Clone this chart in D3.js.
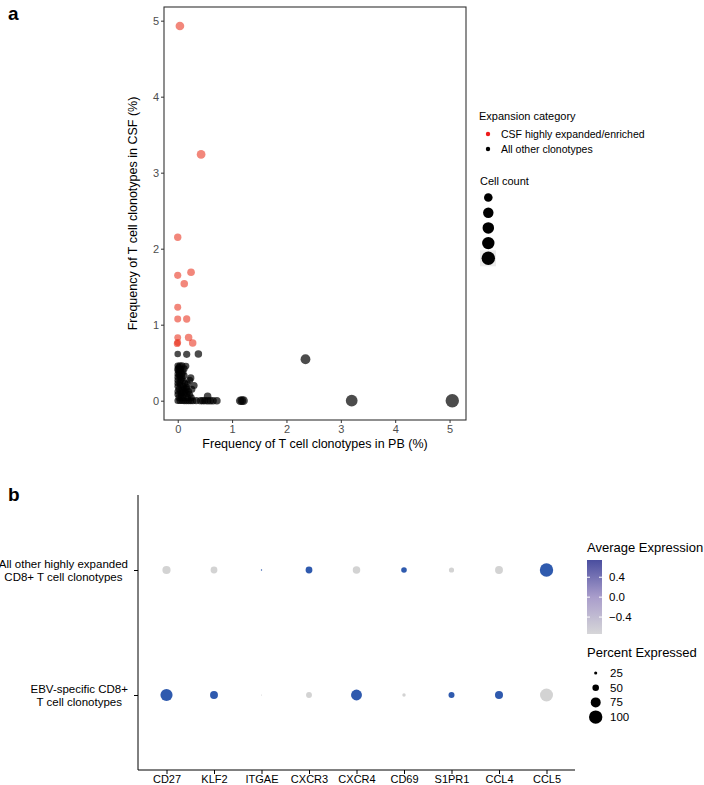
<!DOCTYPE html>
<html>
<head>
<meta charset="utf-8">
<title>Clonotype frequency and dot plot</title>
<script src="https://d3js.org/d3.v7.min.js"></script>
<style>
  body { margin: 0; background: #fff; }
  svg text { font-family: "Liberation Sans", Arial, Helvetica, sans-serif; }
</style>
</head>
<body>
<svg id="fig" width="704" height="785"></svg>
<script>
// ---- panel a data: frequency in PB (x), frequency in CSF (y), cell count ----
var csfExpanded = [
  [0.04, 4.93, 32], [0.43, 3.24, 34], [0.00, 2.15, 10], [0.00, 1.65, 8],
  [0.245, 1.69, 14], [0.12, 1.54, 12], [0.00, 1.23, 6], [0.00, 1.075, 6],
  [0.165, 1.075, 9], [0.00, 0.83, 5], [0.00, 0.765, 5], [-0.01, 0.75, 5],
  [0.20, 0.83, 12], [0.275, 0.76, 12]
];
var otherClonotypes = [
  [0.00, 0.615, 3], [0.165, 0.61, 8], [0.38, 0.615, 12], [2.35, 0.545, 60],
  [0.00, 0.46, 3], [0.04, 0.46, 4], [0.08, 0.46, 5], [0.15, 0.455, 6],
  [0.00, 0.42, 3], [0.05, 0.42, 4], [0.12, 0.42, 5], [0.02, 0.44, 3],
  [0.02, 0.38, 3], [0.10, 0.38, 4], [0.00, 0.40, 3], [0.06, 0.39, 4],
  [0.00, 0.35, 3], [0.08, 0.35, 4], [0.03, 0.34, 3], [0.12, 0.33, 5],
  [0.00, 0.31, 3], [0.04, 0.31, 4], [0.24, 0.30, 9], [0.08, 0.30, 4],
  [0.00, 0.27, 3], [0.06, 0.27, 4], [0.22, 0.27, 7], [0.10, 0.26, 4],
  [0.00, 0.23, 3], [0.04, 0.23, 4], [0.13, 0.23, 5], [0.18, 0.22, 5],
  [0.00, 0.19, 3], [0.10, 0.19, 4], [0.30, 0.20, 8], [0.05, 0.20, 4], [0.16, 0.18, 5],
  [0.02, 0.15, 3], [0.08, 0.15, 4], [0.16, 0.15, 5], [0.26, 0.15, 7], [0.12, 0.16, 4],
  [0.00, 0.12, 3], [0.05, 0.12, 4], [0.14, 0.12, 5], [0.20, 0.12, 6], [0.09, 0.11, 4],
  [0.00, 0.08, 3], [0.06, 0.08, 4], [0.12, 0.08, 5], [0.22, 0.08, 6], [0.17, 0.09, 5],
  [0.02, 0.04, 3], [0.10, 0.04, 4], [0.18, 0.04, 5], [0.25, 0.04, 6], [0.06, 0.05, 4],
  [0.55, 0.06, 12],
  [0.00, 0.00, 3], [0.04, 0.00, 4], [0.08, 0.00, 4], [0.12, 0.00, 5],
  [0.16, 0.00, 5], [0.20, 0.00, 6], [0.24, 0.00, 6], [0.28, 0.00, 7],
  [0.34, 0.00, 8], [0.42, 0.00, 9], [0.46, 0.00, 10], [0.50, 0.00, 10],
  [0.55, 0.00, 11], [0.60, 0.00, 12], [0.65, 0.00, 12], [0.72, 0.00, 13],
  [1.15, 0.00, 30], [1.18, 0.00, 32], [1.21, 0.00, 32],
  [3.20, 0.00, 130], [5.05, 0.00, 210]
];
var xTicksA = [0, 1, 2, 3, 4, 5];
var yTicksA = [0, 1, 2, 3, 4, 5];
var categoryLabels = ["CSF highly expanded/enriched", "All other clonotypes"];
var cellCountKeys = [30, 80, 120, 160, 210];

// ---- panel b data ----
var genes = ["CD27", "KLF2", "ITGAE", "CXCR3", "CXCR4", "CD69", "S1PR1", "CCL4", "CCL5"];
var groups = ["EBV-specific CD8+\nT cell clonotypes", "All other highly expanded\nCD8+ T cell clonotypes"];
var pctOther = [62, 52, 12, 52, 57, 43, 40, 60, 100];
var expOther = [-0.707, -0.707, 0.707, 0.707, -0.707, 0.707, -0.707, -0.707, 0.707];
var pctEBV = [91, 60, 10, 45, 82, 27, 46, 61, 97];
var expEBV = [0.707, 0.707, -0.707, -0.707, 0.707, -0.707, 0.707, 0.707, -0.707];
var expTicks = [-0.4, 0.0, 0.4];
var pctKeys = [25, 50, 75, 100];

var svg = d3.select("#fig");

// panel letters
svg.append("text").attr("x", 8).attr("y", 20).attr("font-size", 19).attr("font-weight", "bold").text("a");
svg.append("text").attr("x", 8).attr("y", 501).attr("font-size", 19).attr("font-weight", "bold").text("b");

// ================= panel a =================
var x = d3.scaleLinear().domain([-0.2525, 5.3025]).range([164, 466]);
var y = d3.scaleLinear().domain([-0.254, 5.18]).range([420, 7]);
var r = d3.scaleSqrt().domain([1, 220]).range([3.1, 6.8]);

var gA = svg.append("g");

gA.append("g").selectAll("circle").data(otherClonotypes).enter().append("circle")
  .attr("cx", d => x(d[0])).attr("cy", d => y(d[1])).attr("r", d => r(d[2]))
  .attr("fill", "#000").attr("fill-opacity", 0.7);

gA.append("g").selectAll("circle").data(csfExpanded).enter().append("circle")
  .attr("cx", d => x(d[0])).attr("cy", d => y(d[1])).attr("r", d => r(d[2]))
  .attr("fill", "#e8250f").attr("fill-opacity", 0.55);

gA.append("rect").attr("x", 164).attr("y", 7).attr("width", 302).attr("height", 413)
  .attr("fill", "none").attr("stroke", "#333").attr("stroke-width", 1.1);

var axB = gA.append("g").attr("transform", "translate(0,420)")
  .call(d3.axisBottom(x).tickValues(xTicksA).tickSize(3).tickPadding(2).tickFormat(d3.format("d")));
var axL = gA.append("g").attr("transform", "translate(164,0)")
  .call(d3.axisLeft(y).tickValues(yTicksA).tickSize(3).tickPadding(2).tickFormat(d3.format("d")));
[axB, axL].forEach(function(a) {
  a.select(".domain").remove();
  a.selectAll("line").attr("stroke", "#333");
  a.selectAll("text").attr("fill", "#4d4d4d").attr("font-size", 11).attr("font-family", null);
});

gA.append("text").attr("x", 315).attr("y", 448).attr("text-anchor", "middle")
  .attr("font-size", 12.5).text("Frequency of T cell clonotypes in PB (%)");
gA.append("text").attr("transform", "translate(137,213.5) rotate(-90)").attr("text-anchor", "middle")
  .attr("font-size", 12.5).text("Frequency of T cell clonotypes in CSF (%)");

// legend: expansion category
var legA = gA.append("g");
legA.append("text").attr("x", 479).attr("y", 120).attr("font-size", 11).text("Expansion category");
var legColors = ["#ee1b1b", "#000"];
categoryLabels.forEach(function(lbl, i) {
  var cy = 134 + i * 15;
  legA.append("circle").attr("cx", 488).attr("cy", cy).attr("r", 2.2).attr("fill", legColors[i]);
  legA.append("text").attr("x", 501).attr("y", cy).attr("dy", "0.35em").attr("font-size", 10.5).text(lbl);
});
legA.append("text").attr("x", 480).attr("y", 185).attr("font-size", 11).text("Cell count");
cellCountKeys.forEach(function(c, i) {
  var cy = 197.5 + i * 15.2;
  if (i === cellCountKeys.length - 1) {
    legA.append("rect").attr("x", 480).attr("y", cy - 8).attr("width", 16).attr("height", 16).attr("fill", "#ebebeb");
  }
  legA.append("circle").attr("cx", 488.3).attr("cy", cy).attr("r", r(c)).attr("fill", "#000");
});

// ================= panel b =================
var xb = d3.scalePoint().domain(genes).range([138, 575]).padding(0.6);
var yb = d3.scalePoint().domain(groups).range([770, 495]).padding(0.6);
var rb = d3.scaleLinear().domain([8, 100]).range([0.4, 6.7]);
var col = d3.scaleLinear().domain([-0.707, 0.707]).range(["#d3d3d3", "#2f5aae"]).interpolate(d3.interpolateLab);

var dots = [];
genes.forEach(function(g, i) {
  dots.push({gene: g, group: groups[1], pct: pctOther[i], exp: expOther[i]});
  dots.push({gene: g, group: groups[0], pct: pctEBV[i], exp: expEBV[i]});
});

var gB = svg.append("g");
gB.append("g").selectAll("circle").data(dots).enter().append("circle")
  .attr("cx", d => xb(d.gene)).attr("cy", d => yb(d.group)).attr("r", d => rb(d.pct))
  .attr("fill", d => col(d.exp));

var bx = gB.append("g").attr("transform", "translate(0,770)")
  .call(d3.axisBottom(xb).tickSize(4).tickSizeOuter(0).tickPadding(1));
bx.select(".domain").attr("d", "M138,0H575").attr("stroke", "#000");
bx.selectAll("text").attr("font-size", 11).attr("fill", "#000").attr("font-family", null);

var by = gB.append("g").attr("transform", "translate(138,0)")
  .call(d3.axisLeft(yb).tickSize(4).tickSizeOuter(0).tickFormat(""));
by.select(".domain").attr("d", "M0,495V770").attr("stroke", "#000");

groups.forEach(function(g) {
  var lines = g.split("\n");
  var t = gB.append("g");
  var texts = lines.map(function(l, k) {
    return t.append("text").attr("y", yb(g) + (k - 0.5) * 13).attr("dy", "0.35em")
      .attr("text-anchor", "middle").attr("font-size", 11.5).text(l);
  });
  var w = d3.max(texts, s => s.node().getComputedTextLength());
  texts.forEach(s => s.attr("x", 128 - w / 2));
});

// legend: average expression
var legB = gB.append("g");
legB.append("text").attr("x", 587).attr("y", 552).attr("font-size", 13).text("Average Expression");
var ly = d3.scaleLinear().domain([-0.74, 0.746]).range([634, 560]);
var defs = svg.append("defs");
var grad = defs.append("linearGradient").attr("id", "expGrad").attr("x1", 0).attr("y1", 1).attr("x2", 0).attr("y2", 0);
[["0%", "#d6d6d8"], ["50%", "#a99dcb"], ["100%", "#4a4e9f"]].forEach(function(s) {
  grad.append("stop").attr("offset", s[0]).attr("stop-color", s[1]);
});
legB.append("rect").attr("x", 587).attr("y", 560).attr("width", 15).attr("height", 74).attr("fill", "url(#expGrad)");
expTicks.forEach(function(v) {
  legB.append("line").attr("x1", 587).attr("x2", 590).attr("y1", ly(v)).attr("y2", ly(v)).attr("stroke", "#fff");
  legB.append("line").attr("x1", 599).attr("x2", 602).attr("y1", ly(v)).attr("y2", ly(v)).attr("stroke", "#fff");
  legB.append("text").attr("x", 609).attr("y", ly(v)).attr("dy", "0.35em").attr("font-size", 11.5)
    .text(d3.format(".1f")(v).replace("-", "\u2212"));
});

// legend: percent expressed
legB.append("text").attr("x", 587).attr("y", 657).attr("font-size", 13).text("Percent Expressed");
pctKeys.forEach(function(p, i) {
  var cy = 673 + i * 14.7;
  legB.append("circle").attr("cx", 595.7).attr("cy", cy).attr("r", rb(p)).attr("fill", "#000");
  legB.append("text").attr("x", 610).attr("y", cy).attr("dy", "0.35em").attr("font-size", 11.5).text(p);
});
</script>
</body>
</html>
